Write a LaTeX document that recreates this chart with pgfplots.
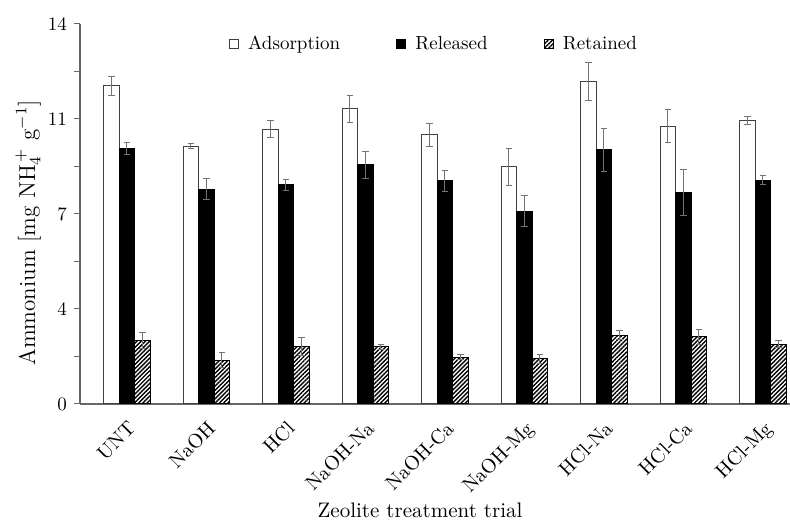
\documentclass[border=0pt]{standalone}
\usepackage{pgfplots}
\usepackage{pgfplotstable}
\pgfplotsset{compat=1.18}
\usetikzlibrary{patterns.meta}

\pgfplotstableread{
x ads adse rel rele ret rete
0 11.72 0.36 9.42 0.21 2.33 0.29
1 9.50 0.10 7.92 0.37 1.62 0.29
2 10.13 0.31 8.08 0.20 2.11 0.34
3 10.87 0.50 8.81 0.50 2.11 0.09
4 9.92 0.43 8.23 0.39 1.73 0.09
5 8.74 0.69 7.11 0.57 1.66 0.15
6 11.88 0.69 9.36 0.80 2.54 0.18
7 10.24 0.60 7.80 0.85 2.48 0.27
8 10.44 0.15 8.25 0.15 2.21 0.13
}\data

\begin{document}
\begin{tikzpicture}
\begin{axis}[name=ax, scale only axis, width=355pt, height=190pt,
  ybar, bar width=0.195,
  xmin=-0.59, xmax=8.34, ymin=0, ymax=14,
  axis lines=left, axis line style={-, black!60, line width=0.6pt},
  xtick={0,...,8},
  xticklabels={UNT,NaOH,HCl,NaOH-Na,NaOH-Ca,NaOH-Mg,HCl-Na,HCl-Ca,HCl-Mg},
  xtick style={draw=none},
  ytick={0,3.5,7,10.5,14}, yticklabels={0,4,7,11,14},
  minor ytick={1.75,5.25,8.75,12.25},
  tick align=outside, major tick length=3pt, minor tick length=3pt,
  ytick style={black!60, line width=0.5pt},
  yticklabel style={font=\fontsize{9.5}{11}\selectfont},
  xticklabel style={rotate=45, anchor=north east, font=\fontsize{10}{12}\selectfont},
  ylabel={Ammonium [mg NH$_4^{\,+}$ g$^{-1}$]},
  ylabel style={at={(axis description cs:-0.073,0.45)}, anchor=center, font=\fontsize{11.5}{13}\selectfont},
  xlabel={Zeolite treatment trial},
  xlabel style={at={(axis description cs:0.479,0)}, anchor=center, yshift=-53pt, font=\fontsize{10.5}{12}\selectfont},
  legend style={at={(0.5,0.947)}, anchor=center, draw=none, fill=none, legend columns=3,
    font=\fontsize{9.5}{11}\selectfont,
    /tikz/every even column/.append style={column sep=26pt},
    /tikz/every odd column/.append style={column sep=2.5pt}},
  legend image code/.code={\draw[#1] (0pt,-2.3pt) rectangle (4.6pt,2.3pt);},
  error bars/y dir=both, error bars/y explicit,
  error bars/error bar style={black!55, line width=0.5pt},
  error bars/error mark options={rotate=90, mark size=1.6pt, black!55, line width=0.5pt},
]
\addplot[draw=black!75, line width=0.5pt, fill=white, bar shift=-0.195]
  table[x=x, y=ads, y error=adse]{\data};
\addlegendentry{Adsorption}
\addplot[draw=black, line width=0.5pt, fill=black, bar shift=0]
  table[x=x, y=rel, y error=rele]{\data};
\addlegendentry{Released}
\addplot[draw=black, line width=0.5pt, fill=white,
  pattern={Lines[angle=45, distance=1.5pt, line width=0.7pt]}, bar shift=0.195]
  table[x=x, y=ret, y error=rete]{\data};
\addlegendentry{Retained}
\end{axis}
\pgfresetboundingbox
\path[use as bounding box] ([xshift=-40pt,yshift=-62.5pt]ax.south west) rectangle ([yshift=12pt]ax.north east);
\end{tikzpicture}
\end{document}
